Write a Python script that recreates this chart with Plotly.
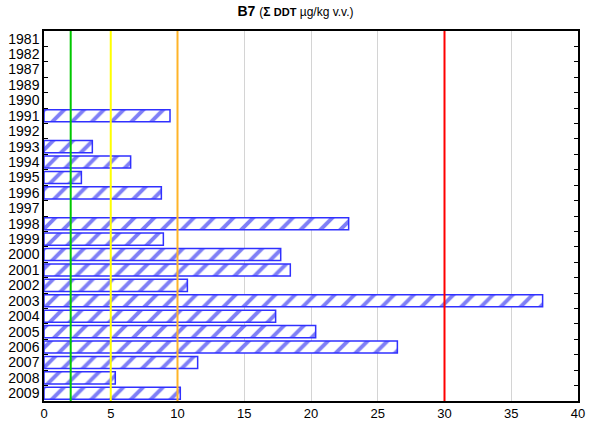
import plotly.graph_objects as go

# Sampling years (top to bottom) and ΣDDT concentration, µg/kg wet weight
years = ["1981", "1982", "1987", "1989", "1990", "1991", "1992", "1993", "1994",
         "1995", "1996", "1997", "1998", "1999", "2000", "2001", "2002", "2003",
         "2004", "2005", "2006", "2007", "2008", "2009"]
ddt = [None, None, None, None, None, 9.44, None, 3.62, 6.49,
       2.8, 8.79, None, 22.82, 8.94, 17.73, 18.45, 10.74, 37.35,
       17.35, 20.35, 26.47, 11.51, 5.34, 10.21]

# Reference thresholds and their line colours
limits = [2, 5, 10, 30]
limit_colors = ["#00c800", "#ffff00", "#ffb428", "#ff0000"]

x_ticks = [0, 5, 10, 15, 20, 25, 30, 35, 40]

fig = go.Figure()
fig.add_trace(go.Bar(
    y=years, x=ddt, orientation="h", width=0.78,
    marker=dict(
        color="white",
        line=dict(color="#3030ff", width=1.5),
        pattern=dict(shape="/", fgcolor="#0000ee", bgcolor="white",
                     size=14, solidity=0.28),
    ),
    showlegend=False,
))

for v, c in zip(limits, limit_colors):
    fig.add_shape(type="line", x0=v, x1=v, y0=0, y1=1, yref="paper",
                  line=dict(color=c, width=2), layer="above")

fig.update_layout(
    width=591, height=421,
    margin=dict(l=44, r=13, t=31, b=20, autoexpand=False),
    paper_bgcolor="white", plot_bgcolor="white",
    font=dict(family="Liberation Sans, Arial, sans-serif", size=13, color="black"),
    title=dict(
        text="<b>B7</b> <span style='font-size:12px'>(<b>Σ</b> "
             "<b><span style='font-size:11px'>DDT</span></b> µg/kg v.v.)</span>",
        x=0.5, xanchor="center", y=0.985, yanchor="top",
        font=dict(size=14),
    ),
    bargap=0.2,
)
fig.update_xaxes(
    range=[0, 40], tickvals=x_ticks, ticktext=[str(t) for t in x_ticks],
    showgrid=True, gridcolor="#d4d4d4", gridwidth=1,
    showline=True, linecolor="black", linewidth=1.5, mirror=True,
    ticks="", zeroline=False, tickfont=dict(size=13), automargin=False,
)
fig.update_yaxes(
    type="category", categoryorder="array", categoryarray=years,
    tickvals=years, ticktext=years,
    autorange="reversed", showgrid=False,
    showline=True, linecolor="black", linewidth=1.5, mirror="ticks",
    ticks="inside", ticklen=4, tickcolor="black", tickson="boundaries",
    tickfont=dict(size=14), automargin=False,
)

fig.write_html("out.html")
